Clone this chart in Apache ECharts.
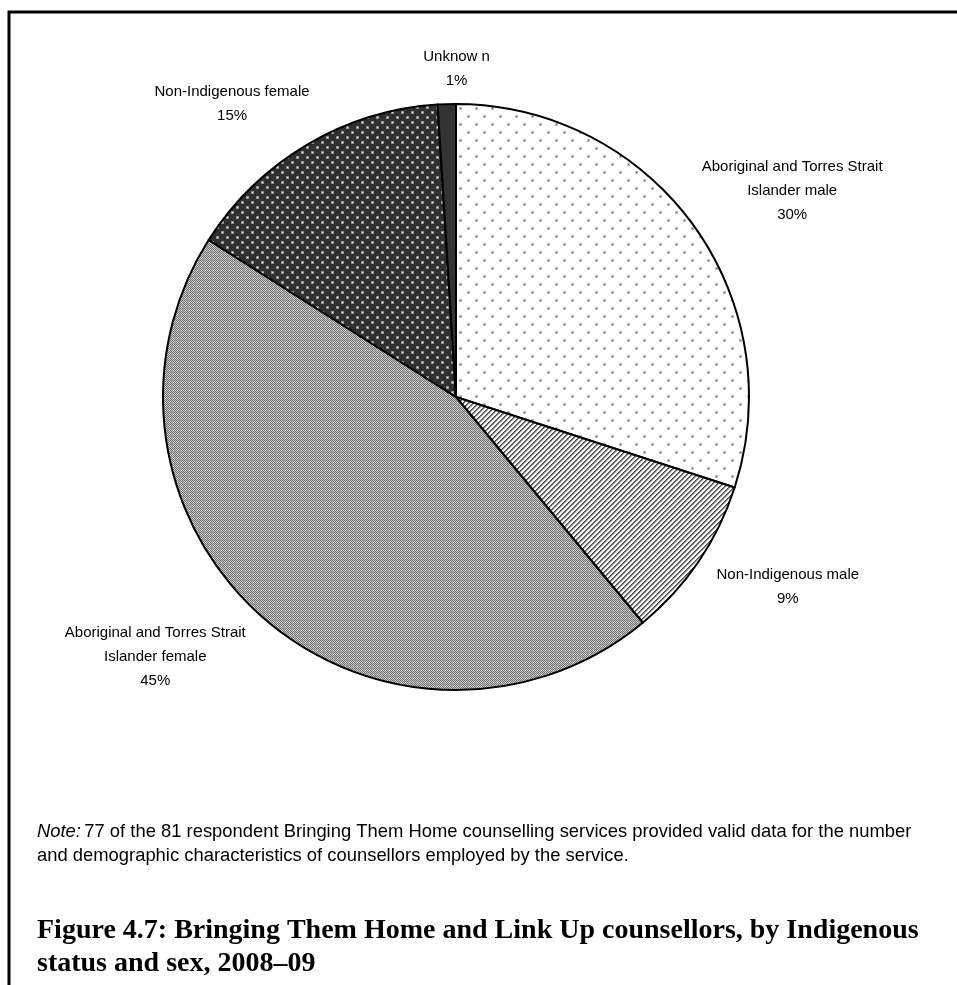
<!DOCTYPE html>
<html>
<head>
<meta charset="utf-8">
<script src="https://cdn.jsdelivr.net/npm/echarts@6/dist/echarts.min.js"></script>
<style>
  html, body { margin: 0; padding: 0; background: #fff; }
  #chart { width: 957px; height: 985px; }
</style>
</head>
<body>
<div id="chart"></div>
<script>
// Counsellors by Indigenous status and sex (per cent of total)
const categories = [
  'Aboriginal and Torres Strait\nIslander male',
  'Non-Indigenous male',
  'Aboriginal and Torres Strait\nIslander female',
  'Non-Indigenous female',
  'Unknow n'
];
const shares = [30, 9, 45, 15, 1];

const noteLines = [
  '77 of the 81 respondent Bringing Them Home counselling services provided valid data for the number',
  'and demographic characteristics of counsellors employed by the service.'
];
const titleText = 'Figure 4.7: Bringing Them Home and Link Up counsellors, by Indigenous\nstatus and sex, 2008–09';

// --- fill patterns -------------------------------------------------------
function makeTile(w, h, draw) {
  const c = document.createElement('canvas');
  c.width = w; c.height = h;
  const ctx = c.getContext('2d');
  draw(ctx, w, h);
  return c;
}
function px(ctx, x, y, col) { ctx.fillStyle = col; ctx.fillRect(x, y, 1, 1); }

// sparse grey dots on white
const lightDots = makeTile(16, 16, (ctx, w, h) => {
  ctx.fillStyle = '#fff'; ctx.fillRect(0, 0, w, h);
  ctx.fillStyle = '#bbb';
  ctx.fillRect(3, 3, 3, 3); ctx.fillRect(11, 11, 3, 3);
  ctx.fillStyle = '#6e6e6e';
  ctx.fillRect(4, 4, 1, 1); ctx.fillRect(12, 12, 1, 1);
});
// fine "/" stripes
const stripes = makeTile(5, 5, (ctx, w, h) => {
  for (let y = 0; y < h; y++) for (let x = 0; x < w; x++) {
    const k = (x + y) % 5;
    px(ctx, x, y, k === 0 ? '#4a4a4a' : k === 1 ? '#7a7a7a' : k === 2 ? '#d0d0d0' : '#fff');
  }
});
// fine grey checker
const checker = makeTile(4, 4, (ctx, w, h) => {
  for (let y = 0; y < h; y++) for (let x = 0; x < w; x++) {
    let col = (x + y) % 2 === 0 ? '#737373' : '#c4c4c4';
    if (x === 1 && y === 2) col = '#f0f0f0';
    px(ctx, x, y, col);
  }
});
// light dots on dark ground
const darkDots = makeTile(10, 10, (ctx, w, h) => {
  ctx.fillStyle = '#303030'; ctx.fillRect(0, 0, w, h);
  ctx.fillStyle = '#909090';
  ctx.fillRect(1, 1, 3, 3); ctx.fillRect(6, 6, 3, 3);
  ctx.fillStyle = '#ececec';
  ctx.fillRect(2, 2, 1, 1); ctx.fillRect(7, 7, 1, 1);
});

const fills = [
  { image: lightDots, repeat: 'repeat' },
  { image: stripes, repeat: 'repeat' },
  { image: checker, repeat: 'repeat' },
  { image: darkDots, repeat: 'repeat' },
  '#333333'
];

// label nudges relative to the library's outside placement
const labelNudge = [
  { dx: -19, dy: -17 },
  { dx: -10, dy: 9 },
  { dx: 7, dy: 19 },
  { dx: 22, dy: -17 },
  { dx: 49, dy: -7 }
];

const chart = echarts.init(document.getElementById('chart'), null, { renderer: 'canvas' });

const sansFont = 'Liberation Sans, Arial, sans-serif';

chart.setOption({
  backgroundColor: '#fff',
  animation: false,
  series: [{
    type: 'pie',
    center: [456, 397],
    radius: 293,
    startAngle: 90,
    clockwise: true,
    avoidLabelOverlap: false,
    data: categories.map((name, i) => ({
      name, value: shares[i],
      itemStyle: { color: fills[i] }
    })),
    itemStyle: { borderColor: '#000', borderWidth: 2 },
    emphasis: { disabled: true },
    label: {
      show: true,
      position: 'outside',
      formatter: p => p.name + '\n' + p.value + '%',
      fontFamily: sansFont,
      fontSize: 15,
      lineHeight: 24,
      color: '#000'
    },
    labelLine: { show: false, length: 28, length2: 0 },
    labelLayout: p => {
      const r = p.labelRect;
      const n = labelNudge[p.dataIndex];
      return {
        x: r.x + r.width / 2 + n.dx,
        y: r.y + r.height / 2 + n.dy,
        align: 'center',
        verticalAlign: 'middle'
      };
    }
  }],
  graphic: [
    // frame
    { type: 'polyline', shape: { points: [[9, 985], [9, 12], [957, 12]] },
      style: { stroke: '#000', lineWidth: 3, fill: null } },
    // note
    { type: 'text', x: 37, y: 820,
      style: {
        text: '{i|Note:} {r|' + noteLines[0] + '}\n{r|' + noteLines[1] + '}',
        rich: {
          i: { fontStyle: 'italic', fontFamily: sansFont, fontSize: 18.4, lineHeight: 24, fill: '#000' },
          r: { fontFamily: sansFont, fontSize: 18.4, lineHeight: 24, fill: '#000' }
        },
        verticalAlign: 'top'
      } },
    // caption
    { type: 'text', x: 37, y: 914,
      style: {
        text: titleText,
        font: 'bold 28px "Liberation Serif", serif',
        lineHeight: 33,
        fill: '#000',
        verticalAlign: 'top'
      } }
  ]
});
</script>
</body>
</html>
